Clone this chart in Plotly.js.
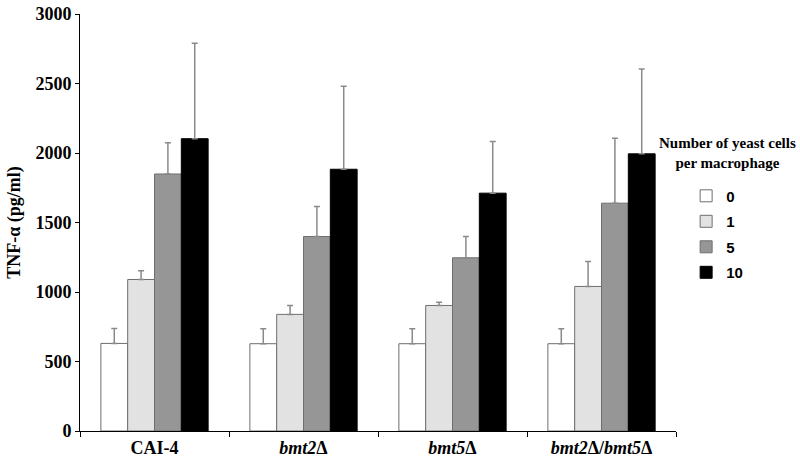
<!DOCTYPE html>
<html>
<head>
<meta charset="utf-8">
<script src="https://cdn.plot.ly/plotly-3.0.1.min.js"></script>
<style>html,body{margin:0;padding:0;background:#fff;} #chart{width:800px;height:469px;}</style>
</head>
<body>
<div id="chart"></div>
<script>
const categories = ['CAI-4', 'bmt2Δ', 'bmt5Δ', 'bmt2Δ/bmt5Δ'];
const tickLabels = ['<b>CAI-4</b>', '<b><i>bmt2</i>Δ</b>', '<b><i>bmt5</i>Δ</b>', '<b><i>bmt2</i>Δ/<i>bmt5</i>Δ</b>'];
const seriesNames = ['0', '1', '5', '10'];
const values0 = [630, 628, 628, 628];
const values1 = [1090, 839, 903, 1040];
const values5 = [1849, 1399, 1246, 1639];
const values10 = [2103, 1883, 1711, 1994];
const err0 = [108, 107, 108, 107];
const err1 = [62, 64, 24, 180];
const err5 = [225, 216, 153, 467];
const err10 = [686, 597, 371, 610];
const yTicks = [0, 500, 1000, 1500, 2000, 2500, 3000];

const fills = ['#ffffff', '#e2e2e2', '#969696', '#000000'];
const lines = ['#6e6e6e', '#6e6e6e', '#6e6e6e', '#000000'];
const vals = [values0, values1, values5, values10];
const errs = [err0, err1, err5, err10];

const traces = vals.map((v, i) => ({
  type: 'bar',
  x: categories,
  y: v,
  name: '<b>' + seriesNames[i] + '</b>',
  legendgroup: 'g' + i,
  marker: {color: fills[i], line: {color: lines[i], width: 1}},
  error_y: {type: 'data', symmetric: false, array: errs[i], arrayminus: errs[i].map(() => 0),
            color: '#8a8a8a', thickness: 1.5, width: 3}
}));

const layout = {
  width: 800, height: 469,
  margin: {l: 80, r: 124, t: 14, b: 38},
  paper_bgcolor: '#fff', plot_bgcolor: '#fff',
  barmode: 'group', bargap: 0.28, bargroupgap: 0,
  showlegend: true,
  legend: {x: 1.017, xanchor: 'left', y: 0.603, yanchor: 'top',
           font: {family: 'Liberation Sans, Arial, sans-serif', size: 15, color: '#000'},
           traceorder: 'grouped', tracegroupgap: 3, itemwidth: 30},
  xaxis: {
    type: 'category', tickvals: categories, ticktext: tickLabels,
    showline: true, linecolor: '#000', linewidth: 1,
    ticks: 'outside', tickson: 'boundaries', ticklen: 5, tickcolor: '#000',
    tickfont: {family: 'Liberation Serif, Times New Roman, serif', size: 18, color: '#000'},
    showgrid: false, zeroline: false
  },
  yaxis: {
    range: [0, 3000], tickvals: yTicks, ticktext: yTicks.map(t => '<b>' + t + '</b>'),
    showline: true, linecolor: '#000', linewidth: 1,
    ticks: 'outside', ticklen: 4, tickcolor: '#000',
    tickfont: {family: 'Liberation Serif, Times New Roman, serif', size: 18, color: '#000'},
    showgrid: false, zeroline: false,
    title: {text: '<b>TNF-α (pg/ml)</b>', standoff: 10,
            font: {family: 'Liberation Serif, Times New Roman, serif', size: 18, color: '#000'}}
  },
  annotations: [{
    xref: 'paper', yref: 'paper', x: 1.087, y: 0.667, xanchor: 'center', yanchor: 'middle',
    text: '<b>Number of yeast cells<br>per macrophage</b>', showarrow: false, align: 'center',
    font: {family: 'Liberation Serif, Times New Roman, serif', size: 15, color: '#000'}
  }]
};

Plotly.newPlot('chart', traces, layout, {displayModeBar: false, staticPlot: true});
</script>
</body>
</html>
